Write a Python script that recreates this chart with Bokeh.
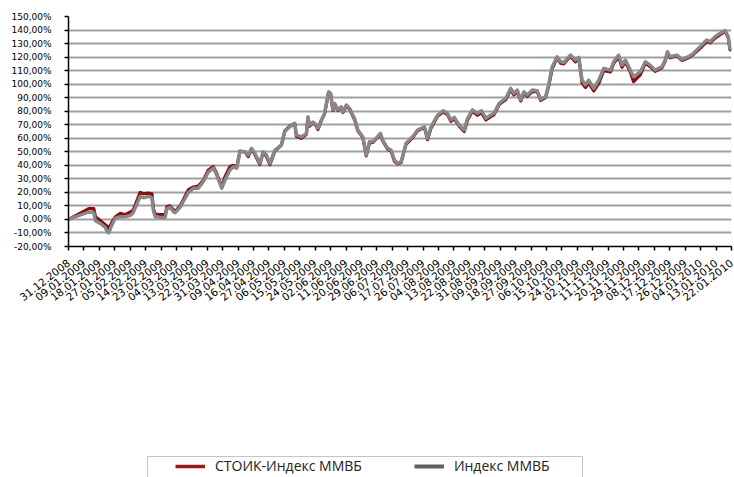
from bokeh.plotting import figure
from bokeh.layouts import column
from bokeh.models import Range1d, FixedTicker, Legend, LegendItem
from bokeh.embed import file_html
from bokeh.resources import INLINE

# category labels on the x axis (one tick each)
date_labels = [
    "31.12.2008", "09.01.2009", "18.01.2009", "27.01.2009", "05.02.2009", "14.02.2009",
    "23.02.2009", "04.03.2009", "13.03.2009", "22.03.2009", "31.03.2009", "09.04.2009",
    "16.04.2009", "27.04.2009", "06.05.2009", "15.05.2009", "24.05.2009", "02.06.2009",
    "11.06.2009", "20.06.2009", "29.06.2009", "06.07.2009", "17.07.2009", "26.07.2009",
    "04.08.2009", "13.08.2009", "22.08.2009", "31.08.2009", "09.09.2009", "18.09.2009",
    "27.09.2009", "06.10.2009", "15.10.2009", "24.10.2009", "02.11.2009", "11.11.2009",
    "20.11.2009", "29.11.2009", "08.12.2009", "17.12.2009", "26.12.2009", "04.01.2010",
    "13.01.2010", "22.01.2010",
]

# position of each observation, in units of the label spacing
t_pos = [
    0.0, 1.31, 1.64, 1.75, 2.07, 2.39, 2.50, 2.61, 2.82, 3.04, 3.36, 3.68, 4.01, 4.20,
    4.65, 4.87, 5.19, 5.41, 5.51, 5.62, 5.95, 6.27, 6.38, 6.59, 6.81, 6.92, 7.24, 7.78,
    8.10, 8.42, 8.75, 9.07, 9.39, 9.61, 9.94, 10.15, 10.47, 10.69, 10.91, 11.12, 11.44,
    11.66, 11.87, 12.09, 12.41, 12.62, 12.84, 13.06, 13.38, 13.81, 14.03, 14.35, 14.67,
    14.78, 15.11, 15.43, 15.53, 15.64, 15.86, 16.08, 16.18, 16.40, 16.61, 16.87, 17.00,
    17.15, 17.26, 17.47, 17.69, 17.80, 18.02, 18.23, 18.55, 18.77, 19.09, 19.31, 19.52,
    19.74, 19.95, 20.23, 20.38, 20.70, 20.92, 21.14, 21.35, 21.57, 21.89, 22.32, 22.64,
    23.08, 23.29, 23.51, 23.94, 24.32, 24.58, 24.80, 25.02, 25.34, 25.66, 25.88, 26.20,
    26.52, 26.78, 27.07, 27.39, 27.60, 27.93, 28.36, 28.68, 28.89, 29.11, 29.33, 29.54,
    29.75, 30.08, 30.40, 30.62, 30.94, 31.16, 31.37, 31.69, 31.91, 32.13, 32.34, 32.56,
    32.88, 33.10, 33.31, 33.53, 33.74, 34.07, 34.39, 34.71, 35.15, 35.36, 35.68, 35.90,
    36.12, 36.44, 36.65, 37.09, 37.41, 37.73, 38.05, 38.48, 38.70, 38.85, 39.02, 39.46,
    39.78, 40.21, 40.53, 40.96, 41.39, 41.61, 41.93, 42.26, 42.58, 42.79, 42.90, 43.0,
]

# Индекс ММВБ, % change
micex = [
    0, 5.5, 5, -1, -3, -6, -9, -10, -4, 1, 2, 2, 3, 5,
    17, 16, 17, 16, 6, 2, 1.5, 1.5, 8, 9, 5.5, 5, 9, 20,
    23, 23, 28, 35, 38, 33, 23, 29, 36.5, 39, 37.8, 50, 50,
    47.6, 52.6, 49, 41.5, 50, 47.6, 41.5, 51.3, 55, 64.9, 68.5, 71,
    62.4, 61, 63.7, 76, 69.8, 72, 69.8, 67.4, 73.5, 78.5, 94.4, 93.2,
    81, 85.8, 81, 83.3, 79.6, 84.6, 82.1, 74.8, 66.1, 61.2, 47.6, 57.5,
    57.5, 60, 63.7, 58.7, 52.6, 51.3, 43.9, 41.5, 42.7, 56.3, 61.2, 66.1,
    68.5, 60, 68.5, 77.2, 80.4, 78.4, 73.5, 75.5, 69.8, 66.1, 74.8, 81,
    78.5, 80.4, 74.8, 77.2, 78.5, 85.8, 89.5, 96.9, 93.2, 95.7, 88.3, 94.4,
    92, 95.7, 95.1, 88.8, 90.7, 100.6, 112.9, 120.3, 116.6, 116, 119, 121.5,
    117.8, 119.8, 103, 99.4, 103, 96.9, 103, 111.7, 110.4, 116.6, 121.5, 114.1,
    117.8, 110.4, 105.4, 109.2, 116.6, 114.1, 110.4, 112.9, 117.8, 124, 120.3, 121.5,
    118.3, 120.3, 122.8, 127.7, 132.7, 131.4, 135.1, 137.6, 139.6, 135.1, 126.5, 126,
]

# СТОИК-Индекс ММВБ, % change
stoik = [
    0, 8, 8, 2, -1, -4, -5, -7, -2, 2, 4.5, 3.5, 5.5, 7,
    20, 19, 19.5, 19, 8, 4, 3.5, 3.5, 9.5, 10, 7, 6, 10, 22,
    24, 24.7, 29, 36.5, 39, 34, 24, 31.6, 39, 40, 38.5, 50.5, 50,
    46.5, 52, 48, 40.5, 49.5, 46.5, 40.5, 50.5, 55, 65.5, 69, 71,
    61.5, 60, 63, 75, 69, 71.5, 69, 66.5, 73, 78, 94, 92.5,
    80.5, 85, 80.5, 83, 79, 84, 81.5, 73.8, 65.5, 60.5, 47, 56.5,
    57, 59.5, 63, 58, 52, 50.5, 43, 41, 42, 55.5, 60.5, 65.5,
    68, 59, 67.5, 76.5, 79.5, 77.5, 72.5, 74.5, 69, 65, 73.5, 80,
    77, 79, 73.5, 76, 77.5, 85, 88.5, 96, 92, 94.5, 87.5, 93.5,
    91, 94.5, 94.5, 88, 90, 99.5, 111.5, 119.5, 115.5, 115, 118, 120.5,
    116.5, 119, 101, 97.5, 101, 95, 100.5, 110, 109, 115.5, 120, 112.5,
    116.5, 109, 101.8, 107, 115.5, 113, 109.5, 112, 117, 123.5, 119.5, 121,
    117.5, 119.5, 122, 126.5, 131.5, 130.5, 134, 136.5, 139, 134.5, 125.5, 125,
]

y_ticks = list(range(-20, 151, 10))

RED = "#8b0c0c"
GRAY = "#888888"

W = 734
p = figure(width=W, height=450, output_backend="svg", toolbar_location=None,
           x_range=Range1d(0, 43), y_range=Range1d(-20, 150),
           min_border_left=68, min_border_right=3, min_border_top=16, min_border_bottom=204)
p.outline_line_color = None

p.xgrid.visible = False
p.ygrid.ticker = FixedTicker(ticks=y_ticks)
p.ygrid.grid_line_color = "#a0a0a0"
p.ygrid.grid_line_width = 2

p.line(t_pos, stoik, line_color=RED, line_width=3.2, line_join="round")
p.line(t_pos, micex, line_color=GRAY, line_width=3.4, line_join="round")

# axes
p.xaxis.ticker = FixedTicker(ticks=list(range(len(date_labels))))
p.xaxis.major_label_overrides = {i: lab for i, lab in enumerate(date_labels)}
p.xaxis.major_label_orientation = 0.66
p.yaxis.ticker = FixedTicker(ticks=y_ticks)
p.yaxis.major_label_overrides = {v: f"{v},00%" for v in y_ticks}

for ax in (p.xaxis[0], p.yaxis[0]):
    ax.axis_line_color = "black"
    ax.axis_line_width = 1.5
    ax.major_tick_line_color = "black"
    ax.major_tick_line_width = 1.5
    ax.major_tick_in = 0
    ax.major_tick_out = 4
    ax.minor_tick_line_color = None
    ax.major_label_text_font = "DejaVu Sans"
    ax.major_label_text_color = "black"
p.yaxis.major_label_text_font_size = "9px"
p.xaxis.major_label_text_font_size = "10.5px"
p.yaxis.major_label_standoff = 13
p.xaxis.major_label_standoff = 11

# legend strip below the chart
q = figure(width=W, height=27, output_backend="svg", toolbar_location=None,
           x_range=Range1d(0, 1), y_range=Range1d(0, 1),
           x_axis_location=None, y_axis_location=None,
           min_border_left=68, min_border_right=3, min_border_top=0, min_border_bottom=0)
q.grid.visible = False
q.outline_line_color = None

nan = float("nan")
d_box = q.line([nan], [nan], line_alpha=0)
d_red = q.line([nan], [nan], line_color="#9a1a1a", line_width=3.5)
d_gray = q.line([nan], [nan], line_color="#606060", line_width=4)

box = Legend(items=[LegendItem(label=" ", renderers=[d_box])], location=(79, -15),
             glyph_width=414, glyph_height=34, label_height=34, padding=0, margin=0,
             label_standoff=0, border_line_color="#8c8c8c", border_line_width=1.5,
             background_fill_alpha=0, label_text_font_size="2px")
q.add_layout(box, "center")

leg = Legend(items=[LegendItem(label="СТОИК-Индекс ММВБ", renderers=[d_red]),
                    LegendItem(label="Индекс ММВБ", renderers=[d_gray])],
             location=(107, 2), orientation="horizontal",
             glyph_width=30, glyph_height=16, label_height=16, padding=0, margin=0,
             spacing=52, label_standoff=10, border_line_alpha=0, background_fill_alpha=0,
             label_text_font="Open Sans", label_text_font_size="14px",
             label_text_color="#222222", label_text_baseline="middle")
q.add_layout(leg, "center")

layout = column(p, q, spacing=0)
open("out.html", "w").write(file_html(layout, INLINE))
